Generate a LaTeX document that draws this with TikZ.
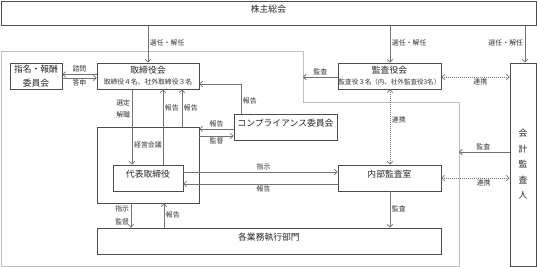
\documentclass[tikz,border=0pt]{standalone}
\usepackage{fontspec}
\setmainfont{Noto Sans CJK JP}
\usetikzlibrary{arrows.meta,fit}
\tikzset{
  box/.style={draw=black!70, line width=0.6pt, inner sep=0pt, fill=white, text=black!85,
    font=\fontsize{6.6}{8}\selectfont, text height=5.5pt, text depth=0.8pt},
  ttl/.style={inner sep=0pt, text=black!85, font=\fontsize{6.6}{8}\selectfont,
    text height=5.5pt, text depth=0.8pt},
  subttl/.style={inner sep=0pt, text=black!80, font=\fontsize{5.1}{6}\selectfont,
    text height=4.2pt, text depth=0.6pt},
  arr/.style={draw=black!55, line width=0.6pt, ->},
  link/.style={draw=black!55, line width=0.6pt, <->, dash pattern=on 0.7pt off 0.8pt},
  lbl/.style={font=\fontsize{5.2}{6}\selectfont, text=black!80, inner sep=1.1pt,
    text height=4.3pt, text depth=0.6pt},
  bound/.style={draw=black!25, line width=0.6pt},
}
\begin{document}
\begin{tikzpicture}[x=0.75pt,y=-0.75pt, >={Straight Barb[length=2pt,width=4.2pt]}]
  \useasboundingbox (0,0) rectangle (537,267);
  % 会社の範囲
  \draw[bound] (1,51) -- (303,51) -- (303,102) -- (459,102) -- (459,266) -- (1,266) -- cycle;
  \coordinate (bdK) at (303,77);
  \coordinate (bdA) at (459,152);

  % 機関
  \node[box, fit={(1,1) (536,25)}] (sh) {株主総会};
  \node[box, fit={(10,63) (62,89)}] (nom) {};
  \node[ttl] (nomA) at ([yshift=5.25pt]nom.center) {指名・報酬};
  \node[ttl] (nomB) at ([yshift=-5.25pt]nom.center) {委員会};
  \node[box, fit={(97,63) (199,89)}] (board) {};
  \node[ttl] (boardT) at ([yshift=4.5pt]board.center) {取締役会};
  \node[subttl] (boardS) at ([yshift=-4.6pt]board.center) {取締役４名、社外取締役３名};
  \node[box, fit={(338,63) (441,89)}] (kan) {};
  \node[ttl] (kanT) at ([yshift=4.5pt]kan.center) {監査役会};
  \node[subttl, font=\fontsize{4.9}{6}\selectfont] (kanS) at ([yshift=-4.6pt]kan.center) {監査役３名（内、社外監査役3名）};
  \node[box, fit={(510,63) (536,266)}] (auditor) {};
  \foreach \c [count=\i] in {会,計,監,査,人}
    \node[ttl] (aud\i) at ([yshift={(3-\i)*11.6pt}]auditor.center) {\c};
  \node[box, fit={(97,127) (199,203)}] (keiei) {};
  \node[box, fit={(113,165) (183,191)}] (ceo) {代表取締役};
  \node[box, fit={(234,114) (337,140)}] (comp) {コンプライアンス委員会};
  \node[box, fit={(338,165) (441,191)}] (naibu) {内部監査室};
  \node[box, fit={(97,228) (441,254)}] (gyomu) {各業務執行部門};
  \node[lbl] (kaigi) at (148,145) {経営会議};

  % 株主総会から
  \draw[arr] (sh.south -| 148,0) -- node[lbl, right, pos=0.47] {選任・解任} (board.north -| 148,0);
  \draw[arr] (sh.south -| 390,0) -- node[lbl, right, pos=0.47] {選任・解任} (kan.north -| 390,0);
  \draw[arr] (sh.south -| 525,0) -- node[lbl, left, pos=0.47] {選任・解任} (auditor.north -| 525,0);

  % 諮問・答申
  \draw[arr] (board.west |- 0,74.5) -- node[lbl, above] {諮問} (nom.east |- 0,74.5);
  \draw[arr] (nom.east |- 0,78) -- node[lbl, below] {答申} (board.west |- 0,78);

  % コンプライアンス委員会
  \draw[arr] (comp.north -| 241,0) |- node[lbl, right, pos=0.22] {報告} (board.east |- 0,84);
  \draw[arr] (comp.west |- 0,129) -- node[lbl, above] {報告} (keiei.east |- 0,129);
  \draw[arr] (keiei.east |- 0,136) -- node[lbl, below] {監督} (comp.west |- 0,136);

  % 取締役会と代表取締役
  \draw[arr] (board.south -| 132,0) -- node[lbl, left, pos=0.18] {選定} node[lbl, left, pos=0.34] {解職} (ceo.north -| 132,0);
  \draw[arr] (ceo.north -| 163,0) -- node[lbl, right, pos=0.75] {報告} (board.south -| 163,0);
  \draw[arr] (keiei.north -| 182,0) -- node[lbl, right] {報告} (board.south -| 182,0);

  % 内部監査室
  \draw[arr] (ceo.east |- 0,172) -- node[lbl, above, pos=0.52] {指示} (naibu.west |- 0,172);
  \draw[arr] (naibu.west |- 0,184) -- node[lbl, below, pos=0.48] {報告} (ceo.east |- 0,184);

  % 各業務執行部門
  \draw[arr] (keiei.south -| 131,0) -- node[lbl, left, pos=0.24] {指示} node[lbl, left, pos=0.76] {監督} (gyomu.north -| 131,0);
  \draw[arr] (gyomu.north -| 164,0) -- node[lbl, right] {報告} (keiei.south -| 164,0);
  \draw[arr] (naibu.south -| 390,0) -- node[lbl, right] {監査} (gyomu.north -| 390,0);

  % 監査・連携
  \draw[arr] (kan.west |- 0,77) -- node[lbl, above] {監査} (bdK);
  \draw[link] (kan.east |- 0,77) -- node[lbl, below, pos=0.57] {連携} (auditor.west |- 0,77);
  \draw[link] (kan.south -| 390,0) -- node[lbl, right, pos=0.41] {連携} (naibu.north -| 390,0);
  \draw[link] (naibu.east |- 0,178) -- node[lbl, below, pos=0.62] {連携} (auditor.west |- 0,178);
  \draw[arr] (auditor.west |- 0,152) -- node[lbl, above, pos=0.52] {監査} (bdA);
\end{tikzpicture}
\end{document}
